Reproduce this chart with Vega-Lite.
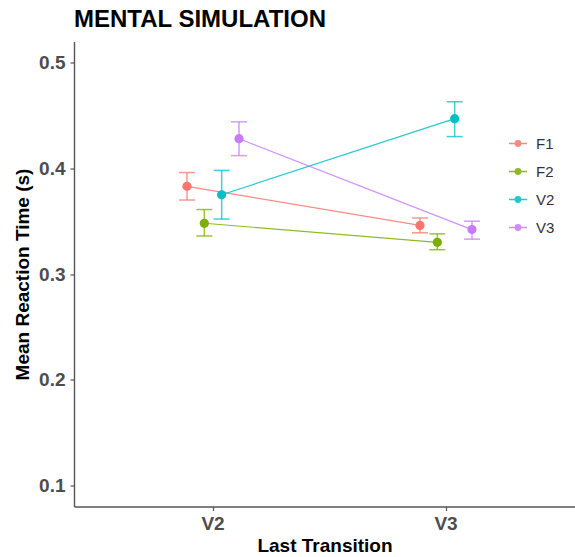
{
  "$schema": "https://vega.github.io/schema/vega-lite/v6.json",
  "autosize": "none",
  "padding": {"left": 74, "top": 41.5, "right": 0, "bottom": 51},
  "width": 501,
  "height": 465,
  "background": "white",
  "title": {
    "text": "MENTAL SIMULATION",
    "anchor": "start",
    "frame": "group",
    "font": "Liberation Sans",
    "fontSize": 24,
    "fontWeight": "bold",
    "color": "#000000",
    "offset": 10
  },
  "config": {
    "view": {"stroke": null},
    "font": "Liberation Sans",
    "axis": {
      "grid": false,
      "domainColor": "#555555",
      "domainWidth": 1.4,
      "tickColor": "#555555",
      "tickWidth": 1.2,
      "tickSize": 4,
      "labelFont": "Liberation Sans",
      "labelFontSize": 19,
      "labelFontWeight": "bold",
      "labelColor": "#4d4d4d",
      "titleFont": "Liberation Sans",
      "titleFontSize": 19,
      "titleFontWeight": "bold",
      "titleColor": "#000000"
    }
  },
  "data": {
    "values": [
      {"last": "V2", "series": "F1", "mean": 0.383, "lo": 0.370, "hi": 0.396},
      {"last": "V2", "series": "F2", "mean": 0.348, "lo": 0.336, "hi": 0.361},
      {"last": "V2", "series": "V2", "mean": 0.375, "lo": 0.352, "hi": 0.398},
      {"last": "V2", "series": "V3", "mean": 0.428, "lo": 0.412, "hi": 0.444},
      {"last": "V3", "series": "F1", "mean": 0.346, "lo": 0.339, "hi": 0.353},
      {"last": "V3", "series": "F2", "mean": 0.330, "lo": 0.323, "hi": 0.338},
      {"last": "V3", "series": "V2", "mean": 0.447, "lo": 0.430, "hi": 0.463},
      {"last": "V3", "series": "V3", "mean": 0.342, "lo": 0.333, "hi": 0.350}
    ]
  },
  "encoding": {
    "x": {
      "field": "last",
      "type": "nominal",
      "title": "Last Transition",
      "scale": {"type": "band", "paddingInner": 0, "paddingOuter": 0.0751, "align": 0.643},
      "axis": {"labelAngle": 0, "labelPadding": 4, "titlePadding": 3}
    },
    "xOffset": {
      "field": "series",
      "type": "nominal",
      "scale": {"type": "point", "padding": 0, "range": [90.5, 142.5]}
    },
    "color": {
      "field": "series",
      "type": "nominal",
      "title": null,
      "scale": {
        "domain": ["F1", "F2", "V2", "V3"],
        "range": ["#F8766D", "#7CAE00", "#00BFC4", "#C77CFF"]
      },
      "legend": {
        "orient": "none",
        "legendX": 434,
        "legendY": 92,
        "rowPadding": 10,
        "labelFont": "Liberation Sans",
        "labelFontSize": 15,
        "labelColor": "#333333",
        "labelOffset": 8,
        "symbolType": "M-1,0H1M-0.3,0A0.3,0.3 0 1,1 0.3,0A0.3,0.3 0 1,1 -0.3,0Z",
        "symbolSize": 324,
        "symbolStrokeWidth": 1.5,
        "encode": {
          "symbols": {
            "update": {
              "stroke": {"scale": "color", "field": "value"},
              "fill": {"scale": "color", "field": "value"},
              "opacity": {"value": 1}
            }
          }
        }
      }
    }
  },
  "layer": [
    {
      "mark": {"type": "line", "strokeWidth": 1.2, "opacity": 0.85},
      "encoding": {
        "y": {
          "field": "mean",
          "type": "quantitative",
          "title": "Mean Reaction Time (s)",
          "scale": {"domain": [0.08, 0.52], "nice": false, "zero": false},
          "axis": {"values": [0.1, 0.2, 0.3, 0.4, 0.5], "format": ".1f", "labelPadding": 5, "titlePadding": 6}
        },
        "detail": {"field": "series"}
      }
    },
    {
      "mark": {"type": "rule", "strokeWidth": 1.5, "opacity": 0.75},
      "encoding": {
        "y": {"field": "lo", "type": "quantitative"},
        "y2": {"field": "hi"}
      }
    },
    {
      "mark": {"type": "tick", "size": 16, "thickness": 1.5, "opacity": 0.75, "orient": "horizontal"},
      "encoding": {"y": {"field": "lo", "type": "quantitative"}}
    },
    {
      "mark": {"type": "tick", "size": 16, "thickness": 1.5, "opacity": 0.75, "orient": "horizontal"},
      "encoding": {"y": {"field": "hi", "type": "quantitative"}}
    },
    {
      "mark": {"type": "point", "filled": true, "size": 85, "opacity": 1},
      "encoding": {"y": {"field": "mean", "type": "quantitative"}}
    }
  ]
}
